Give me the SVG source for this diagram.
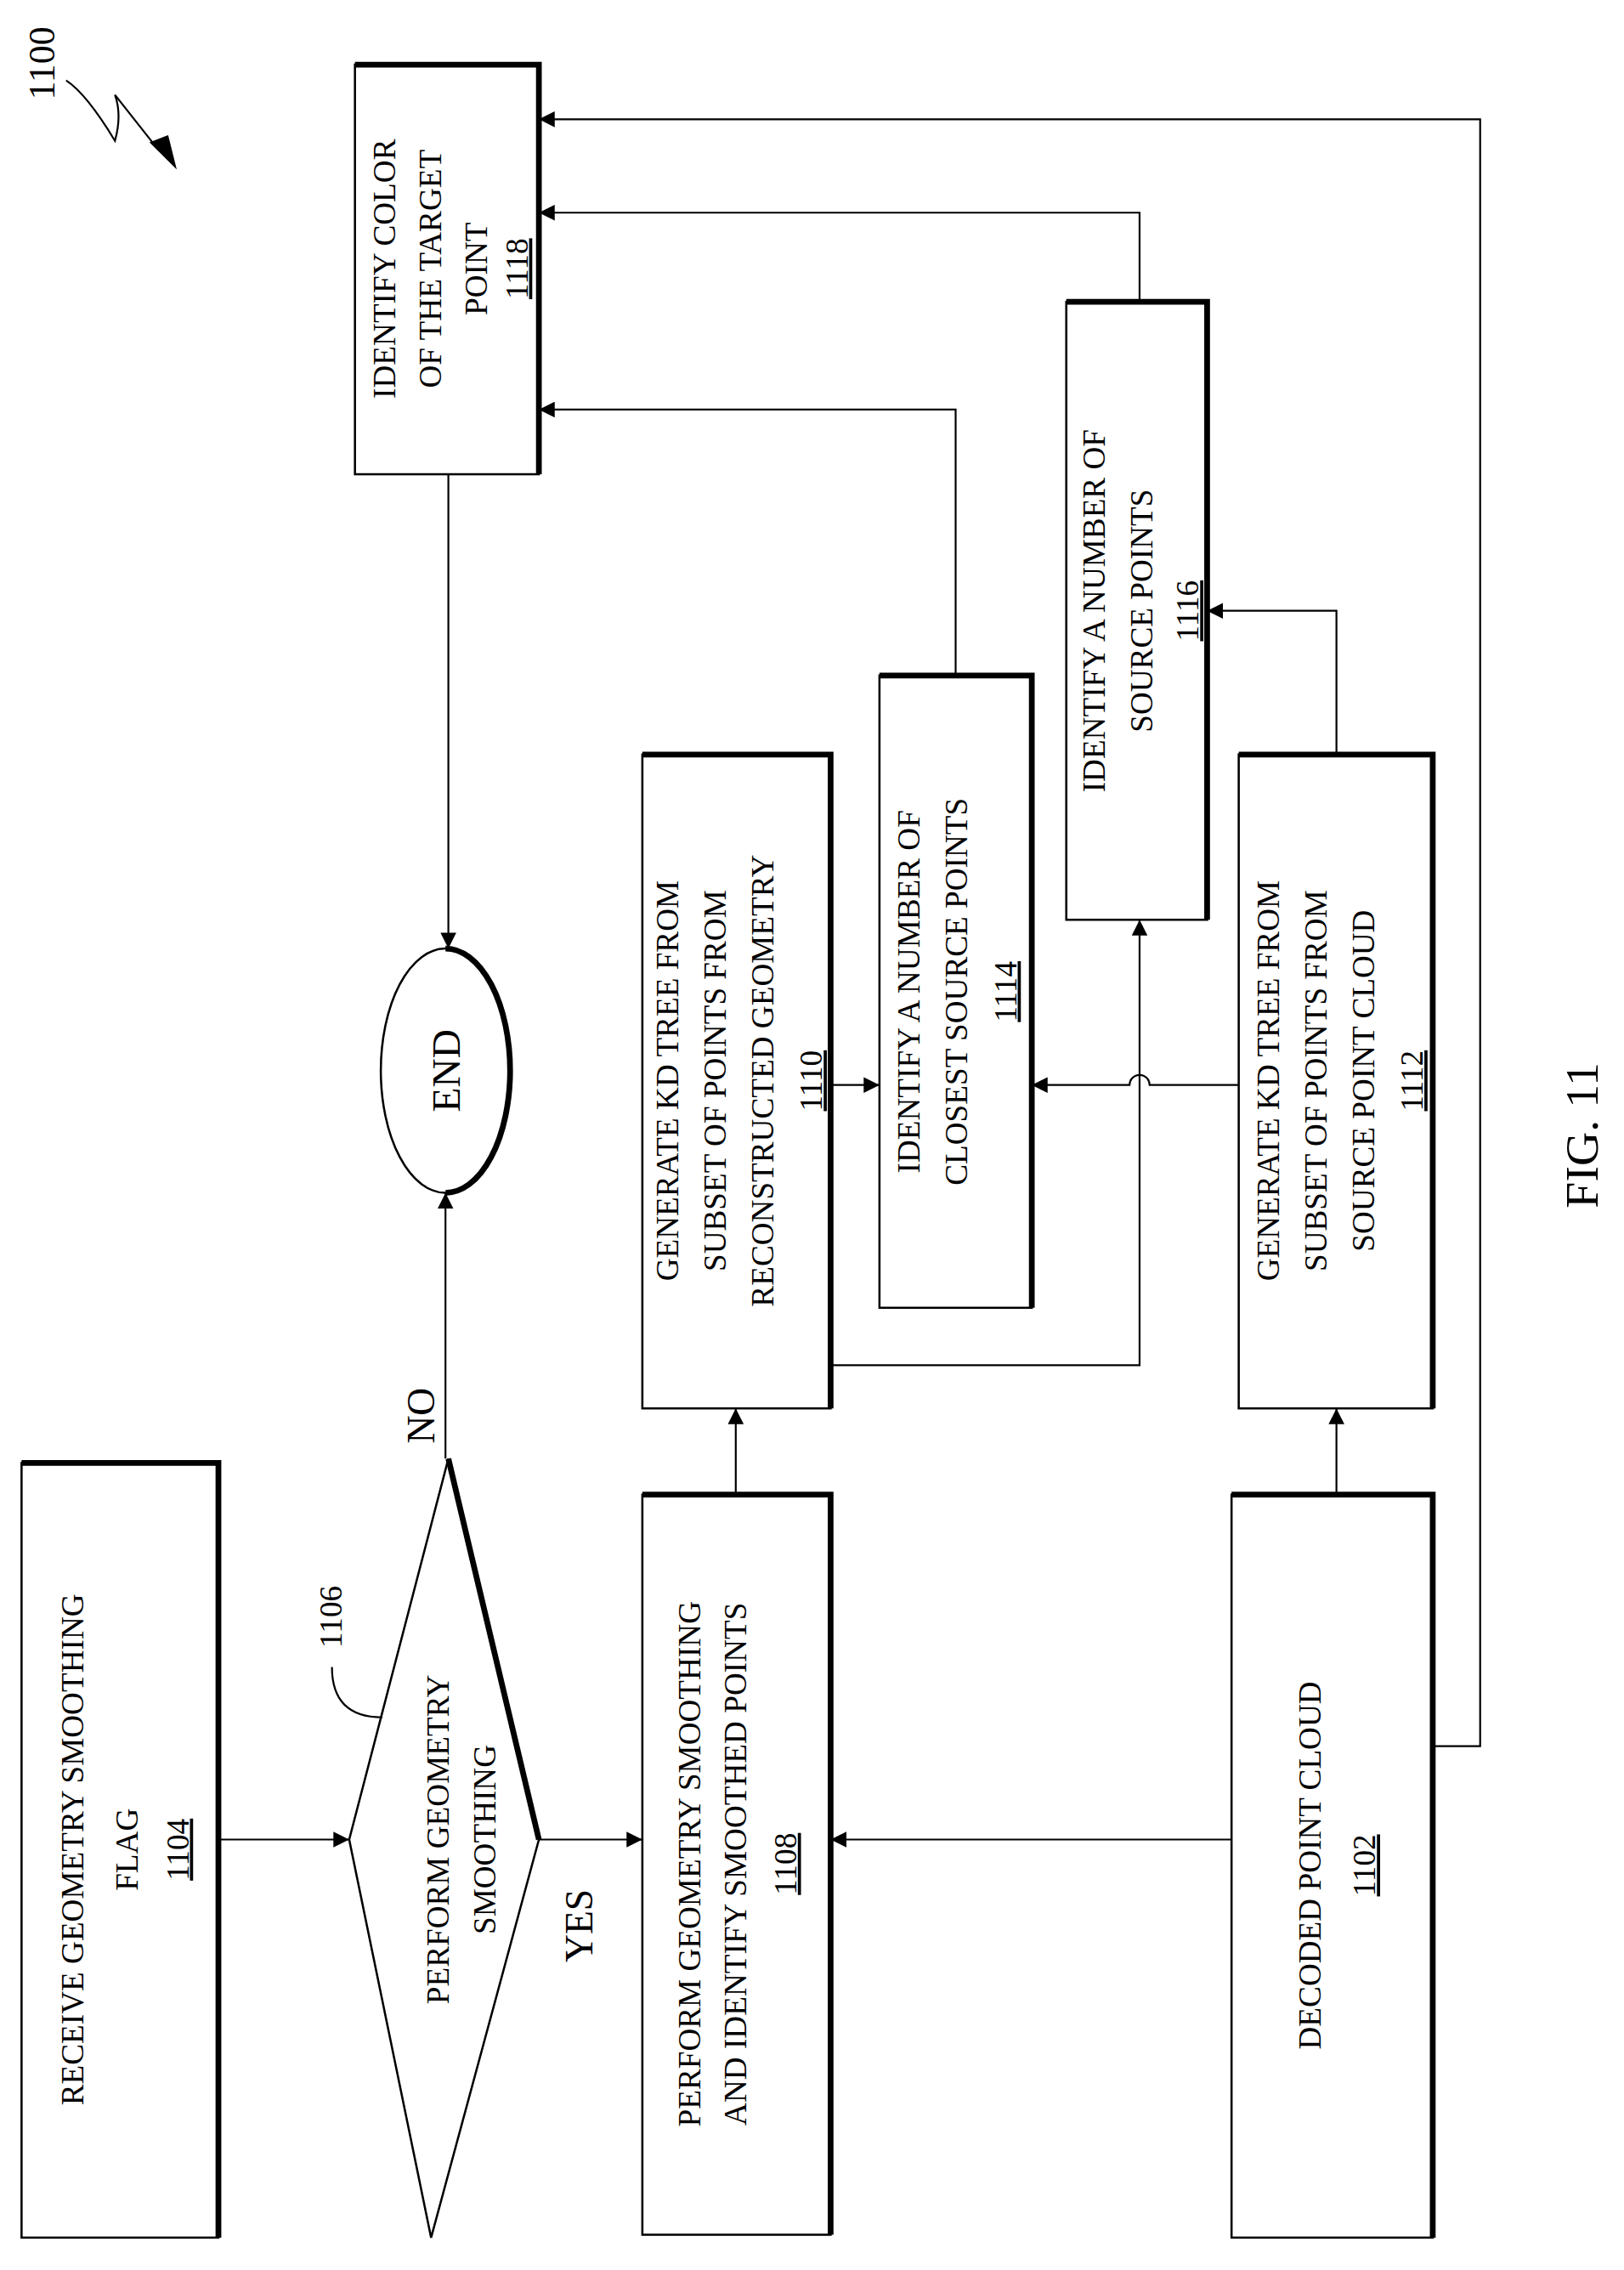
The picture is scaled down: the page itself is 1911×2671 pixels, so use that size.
<svg xmlns="http://www.w3.org/2000/svg" width="1911" height="2671" viewBox="0 0 1911 2671">
<style>
.b{fill:#fff;stroke:#000;stroke-width:1.5}
.s{fill:none;stroke:#000;stroke-width:4}
.c{fill:none;stroke:#000;stroke-width:1.3}
text{font-family:"Liberation Serif",serif;font-size:22px;text-anchor:middle}
.u{text-decoration:underline}
</style>
<defs><marker id="a" viewBox="0 0 10 10" refX="10" refY="5" markerWidth="11" markerHeight="11" markerUnits="userSpaceOnUse" orient="auto"><path d="M0,0L10,5L0,10z"/></marker></defs>
<rect width="1911" height="2671" fill="#fff"/>
<g transform="scale(1.691)">
<g id="n1104"><rect class="b" x="15" y="1018" width="137" height="539"/><path class="s" d="M15,1018H152V1557"/>
<g transform="translate(83,1287) rotate(-90)"><text y="-25">RECEIVE GEOMETRY SMOOTHING</text><text y="13">FLAG</text><text y="48" class="u">1104</text></g></g>
<g id="n1106"><path class="b" d="M312,1015L375,1280L300,1557L243,1280Z"/><path class="s" d="M312,1015L375,1280"/>
<g transform="translate(320,1280) rotate(-90)"><text y="-8">PERFORM GEOMETRY</text><text y="25">SMOOTHING</text></g>
<text transform="translate(238,1125) rotate(-90)">1106</text><path class="c" d="M231,1160Q231,1195 266,1195"/></g>
<g id="nend"><ellipse class="b" cx="310" cy="745" rx="45" ry="85"/><path class="s" d="M310,660A45,85 0 0 1 310,830"/>
<text transform="translate(320,745) rotate(-90)" style="font-size:28px">END</text></g>
<g id="n1108"><rect class="b" x="447" y="1040" width="131" height="515"/><path class="s" d="M447,1040H578V1555"/>
<g transform="translate(512,1297) rotate(-90)"><text y="-25">PERFORM GEOMETRY SMOOTHING</text><text y="7">AND IDENTIFY SMOOTHED POINTS</text><text y="42" class="u">1108</text></g></g>
<g id="n1110"><rect class="b" x="447" y="525" width="131" height="455"/><path class="s" d="M447,525H578V980"/>
<g transform="translate(512,752) rotate(-90)"><text y="-40">GENERATE KD TREE FROM</text><text y="-7">SUBSET OF POINTS FROM</text><text y="26">RECONSTRUCTED GEOMETRY</text><text y="60" class="u">1110</text></g></g>
<g id="n1114"><rect class="b" x="612" y="470" width="106" height="440"/><path class="s" d="M612,470H718V910"/>
<g transform="translate(665,690) rotate(-90)"><text y="-25">IDENTIFY A NUMBER OF</text><text y="8">CLOSEST SOURCE POINTS</text><text y="42" class="u">1114</text></g></g>
<g id="n1116"><rect class="b" x="742" y="210" width="98" height="430"/><path class="s" d="M742,210H840V640"/>
<g transform="translate(791,425) rotate(-90)"><text y="-22">IDENTIFY A NUMBER OF</text><text y="11">SOURCE POINTS</text><text y="43" class="u">1116</text></g></g>
<g id="n1112"><rect class="b" x="862" y="525" width="135" height="455"/><path class="s" d="M862,525H997V980"/>
<g transform="translate(930,752) rotate(-90)"><text y="-40">GENERATE KD TREE FROM</text><text y="-7">SUBSET OF POINTS FROM</text><text y="26">SOURCE POINT CLOUD</text><text y="60" class="u">1112</text></g></g>
<g id="n1102"><rect class="b" x="857" y="1040" width="140" height="517"/><path class="s" d="M857,1040H997V1557"/>
<g transform="translate(927,1298) rotate(-90)"><text y="-8">DECODED POINT CLOUD</text><text y="30" class="u">1102</text></g></g>
<g id="n1118"><rect class="b" x="247" y="45" width="128" height="285"/><path class="s" d="M247,45H375V330"/>
<g transform="translate(311,187) rotate(-90)"><text y="-36">IDENTIFY COLOR</text><text y="-4">OF THE TARGET</text><text y="28">POINT</text><text y="56" class="u">1118</text></g></g>
<g id="connectors">
<path class="c" marker-end="url(#a)" d="M152,1280H243"/>
<path class="c" marker-end="url(#a)" d="M375,1280H447"/>
<path class="c" marker-end="url(#a)" d="M310,1015V830"/>
<path class="c" marker-end="url(#a)" d="M512,1040V980"/>
<path class="c" marker-end="url(#a)" d="M578,755H612"/>
<path class="c" marker-end="url(#a)" d="M578,950H793V640"/>
<path class="c" marker-end="url(#a)" d="M862,755H800A7,7 0 0 0 786,755H718"/>
<path class="c" marker-end="url(#a)" d="M930,525V425H840"/>
<path class="c" marker-end="url(#a)" d="M930,1040V980"/>
<path class="c" marker-end="url(#a)" d="M857,1280H578"/>
<path class="c" marker-end="url(#a)" d="M997,1215H1030V83H375"/>
<path class="c" marker-end="url(#a)" d="M793,210V148H375"/>
<path class="c" marker-end="url(#a)" d="M665,470V285H375"/>
<path class="c" marker-end="url(#a)" d="M312,330V660"/>
</g>
<text transform="translate(302,985) rotate(-90)" style="font-size:27px">NO</text>
<text transform="translate(412,1340) rotate(-90)" style="font-size:27px">YES</text>
<text transform="translate(1112,790) rotate(-90)" style="font-size:33px">FIG. 11</text>
<text transform="translate(38,44) rotate(-90)" style="font-size:26px">1100</text>
<path class="c" d="M46,56Q60,65 80,98Q85,80 80,66L110,104"/><path d="M104,99L123,118L117,94Z" fill="#000"/>
</g>
</svg>
